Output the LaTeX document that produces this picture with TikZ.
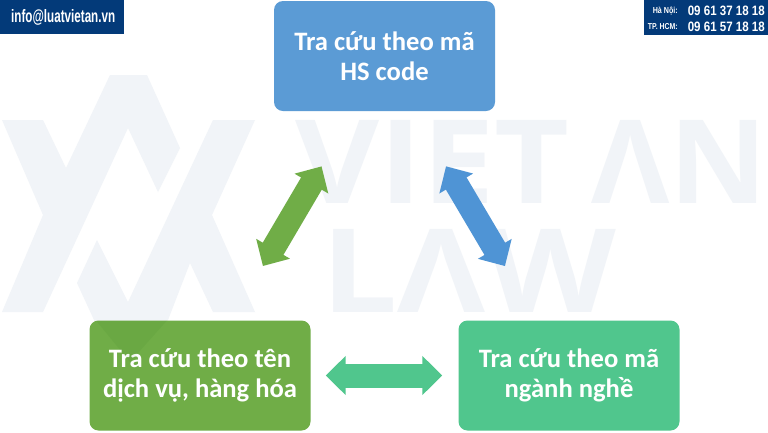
\documentclass[tikz,border=0pt]{standalone}
\usepackage{fontspec}
\usepackage{graphicx}
\usetikzlibrary{arrows.meta}
\setmainfont{Carlito}
\newfontfamily\hdrfont{Liberation Sans}
\newfontfamily\wmfont{Open Sans}
\definecolor{wmark}{HTML}{F1F4F8}
\definecolor{navy}{HTML}{033A79}
\definecolor{cblue}{HTML}{5B9BD5}
\definecolor{carrow}{HTML}{4F94D5}
\definecolor{cgreen}{HTML}{70AD47}
\definecolor{cteal}{HTML}{50C68D}
\tikzset{
  x=1pt,y=-1pt,
  card/.style={rounded corners=9pt,minimum width=221pt,minimum height=110pt,inner sep=0pt,text=white,align=center,font=\fontsize{26.6}{30}\selectfont\bfseries},
  blockarrow/.style={line width=24pt,{Triangle[length=20pt,width=38pt]}-{Triangle[length=20pt,width=38pt]}},
  banner/.style={fill=navy,draw=none},
  hdr/.style={text=white,inner sep=0pt,font=\hdrfont\bfseries},
  wm/.style={text=wmark,inner sep=0pt,anchor=north west,font=\wmfont\bfseries},
  logo/.style={fill=wmark,draw=none}
}
\begin{document}
\begin{tikzpicture}
\path[use as bounding box,fill=white] (0,0) rectangle (768,432);
% watermark logo
\fill[logo] (2,120)--(43,120)--(66,168)--(110,75)--(147,75)--(180,148)--(158,192)--(128,128)--(43,312)--(2,312)--(43,215)--cycle;
\fill[logo] (255,120)--(213,120)--(128,302)--(97,240)--(77,283)--(100,333)--(163,333)--(190,263)--(213,312)--(255,312)--(212,215)--cycle;
% watermark words
\node[wm] (wmviet) at (295,120) {\resizebox{274pt}{83pt}{VIET}};
\node[wm] (wman) at (591,120) {\resizebox{176pt}{83pt}{ΛN}};
\node[wm] (wmlaw) at (321,229) {\resizebox{295pt}{83pt}{LΛW}};
% banners
\fill[banner] (0,0) rectangle (124,34);
\fill[banner] (644,0) rectangle (768,35);
\node[hdr,anchor=west] (mail) at (11,17.5) {\resizebox{104pt}{13pt}{info@luatvietan.vn}};
\node[hdr,anchor=east] (hnlab) at (678,11.5) {\resizebox{25pt}{6.5pt}{Hà Nội:}};
\node[hdr,anchor=east] (hcmlab) at (678,26.5) {\resizebox{30pt}{6pt}{TP. HCM:}};
\node[hdr,anchor=east] (hnnum) at (765,11) {\resizebox{77pt}{9.5pt}{09 61 37 18 18}};
\node[hdr,anchor=east] (hcmnum) at (765,26.5) {\resizebox{77pt}{9.5pt}{09 61 57 18 18}};
% cards
\node[card,fill=cblue] (hs) at (384.5,56) {Tra cứu theo mã\\HS code};
\node[card,fill=cgreen] (dv) at (200,375.5) {Tra cứu theo tên\\dịch vụ, hàng hóa};
\node[card,fill=cteal] (nn) at (569,375.5) {Tra cứu theo mã\\ngành nghề};
\fill[green!35!black,opacity=0.05] (96,320.5)--(167,320.5)--(130,362)--cycle;
% connectors
\draw[blockarrow,cgreen,shorten <=64pt,shorten >=63pt] ([xshift=-30.5pt]hs.south) -- ([xshift=31pt]dv.north);
\draw[blockarrow,carrow,shorten <=64pt,shorten >=63pt] ([xshift=29pt]hs.south) -- ([xshift=-32pt]nn.north);
\draw[blockarrow,cteal,shorten <=15pt,shorten >=16pt] (dv.east) -- (nn.west);
\end{tikzpicture}
\end{document}
